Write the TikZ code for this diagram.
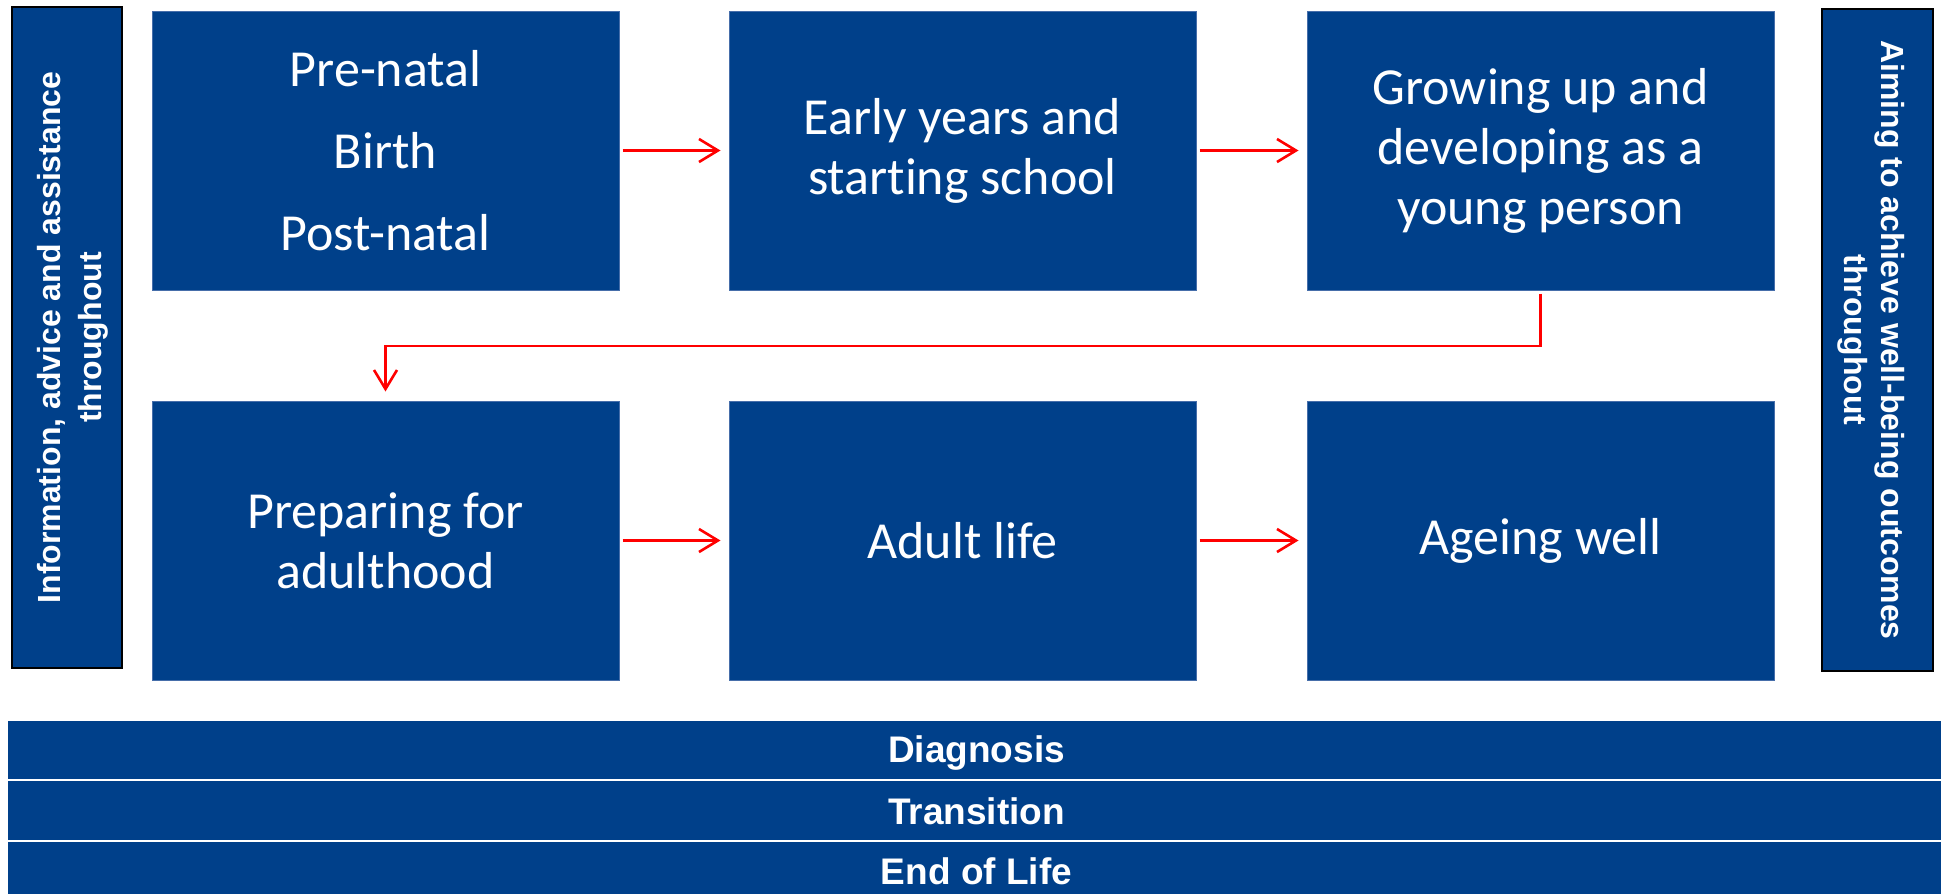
\documentclass[tikz,border=0pt]{standalone}
\usepackage{fontspec}
\setmainfont{Carlito}[Ligatures=NoCommon]
\newfontfamily\arialfont{Liberation Sans}
\usetikzlibrary{arrows.meta}
\definecolor{dblue}{RGB}{0,64,138}
\definecolor{edgeblue}{RGB}{70,110,170}
\definecolor{arrred}{RGB}{255,0,0}
\tikzset{
  stagebox/.style={fill=dblue, draw=edgeblue, line width=1pt, minimum width=467pt, minimum height=279pt, inner sep=0pt, text=white, align=center, font=\fontsize{52}{60}\selectfont},
  sidebar/.style={fill=dblue, draw=black, line width=1.5pt, inner sep=0pt},
  sidetext/.style={text=white, align=center, inner sep=0pt, font=\arialfont\bfseries\fontsize{32}{37}\selectfont},
  bottombar/.style={fill=dblue, draw=none, inner sep=0pt, minimum width=1937pt},
  bartext/.style={text=white, inner sep=0pt, font=\arialfont\bfseries\fontsize{37}{40}\selectfont},
  flow/.style={draw=arrred, line width=2.6pt, -{Straight Barb[length=19pt,width=23pt,line width=2.6pt]}, shorten <=3pt, shorten >=8pt}
}
\begin{document}
\begin{tikzpicture}[x=1pt,y=-1pt]
\useasboundingbox (0,0) rectangle (1941,894);
\fill[white] (0,0) rectangle (1941,894);
% side bars
\node[sidebar, minimum width=110pt, minimum height=661pt] (lbar) at (67,337.5) {};
\node[sidetext, rotate=90, font=\arialfont\bfseries\fontsize{32}{41}\selectfont] (ltext) at ([xshift=6pt]lbar.center) {Information, advice and assistance\\throughout};
\node[sidebar, minimum width=111pt, minimum height=662pt] (rbar) at (1877.5,340) {};
\node[sidetext, rotate=-90] (rtext) at ([xshift=-6pt]rbar.center) {Aiming to achieve well-being outcomes\\throughout};
% stage boxes
\node[stagebox, font=\fontsize{52}{82}\selectfont] (b1) at (385.5,150.5) {Pre-natal\\Birth\\Post-natal};
\node[stagebox] (b2) at (962.5,150.5) {Early years and\\starting school};
\node[stagebox] (b3) at (1540.5,150.5) {Growing up and\\developing as a\\young person};
\node[stagebox] (b4) at (385.5,540.5) {Preparing for\\adulthood};
\node[stagebox] (b5) at (962.5,540.5) {Adult life};
\node[stagebox] (b6) at (1540.5,540.5) {Ageing well};
% bottom bars
\node[bottombar, minimum height=58pt] (bd) at (976.5,750) {};
\node[bartext] (bdt) at ([yshift=-3pt]bd.center) {Diagnosis};
\node[bottombar, minimum height=59pt] (bt) at (976.5,810.5) {};
\node[bartext] (btt) at ([yshift=-1pt]bt.center) {Transition};
\node[bottombar, minimum height=58pt] (be) at (976.5,871) {};
\node[bartext] (bet) at (be.center) {End of Life};
% connectors
\draw[flow] (b1) -- (b2);
\draw[flow] (b2) -- (b3);
\draw[flow] (b4) -- (b5);
\draw[flow] (b5) -- (b6);
\coordinate (elb) at (1540.5,346);
\draw[flow, shorten >=9pt] (b3.south) -- (b3.south |- elb) -| (b4.north);
\end{tikzpicture}
\end{document}
